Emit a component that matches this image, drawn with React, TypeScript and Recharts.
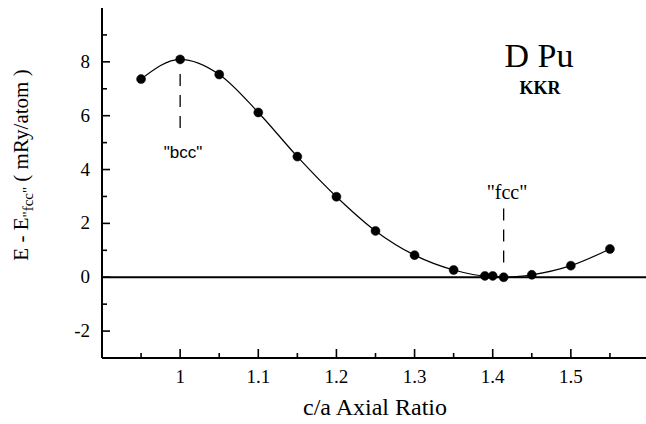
import React from 'react';
import { LineChart, Line, XAxis, YAxis, ReferenceLine, Customized } from 'recharts';

const caRatio = [0.95, 1.0, 1.05, 1.1, 1.15, 1.2, 1.25, 1.3, 1.35, 1.39, 1.4, 1.414, 1.45, 1.5, 1.55];
const energy = [7.36, 8.09, 7.53, 6.12, 4.48, 2.99, 1.72, 0.82, 0.27, 0.05, 0.05, 0.0, 0.09, 0.43, 1.05];
const xTicks = [0.95, 1, 1.05, 1.1, 1.15, 1.2, 1.25, 1.3, 1.35, 1.4, 1.45, 1.5, 1.55];
const yTicks = [-2, -1, 0, 1, 2, 3, 4, 5, 6, 7, 8, 9];
const bccMarker = [{ x: 1.0, y: 7.55 }, { x: 1.0, y: 5.45 }];
const fccMarker = [{ x: 1.414, y: 2.55 }, { x: 1.414, y: 0.45 }];

const data = caRatio.map((x, i) => ({ x, e: energy[i] }));

const SERIF = { fontFamily: "'Times New Roman', 'Liberation Serif', Tinos, 'Nimbus Roman', FreeSerif, serif" };
const SANS = { fontFamily: "'Liberation Sans', Arial, sans-serif" };

const isMajorX = (v: number) => Math.abs(v * 10 - Math.round(v * 10)) < 1e-6;
const isMajorY = (v: number) => Math.abs(v / 2 - Math.round(v / 2)) < 1e-6;

const BottomTick = (props: any) => {
  const { x, y, payload } = props;
  const major = isMajorX(payload.value);
  return (
    <g>
      <line x1={x} y1={y} x2={x} y2={y - (major ? 9 : 5)} stroke="#000" strokeWidth={1.6} />
      {major && (
        <text x={x} y={y + 25} textAnchor="middle" style={SERIF} fontSize={19} fill="#000">
          {String(Math.round(payload.value * 10) / 10)}
        </text>
      )}
    </g>
  );
};

const TopTick = (props: any) => {
  const { x, y, payload } = props;
  const major = isMajorX(payload.value);
  return <line x1={x} y1={y} x2={x} y2={y + (major ? 9 : 6)} stroke="#000" strokeWidth={1.6} />;
};

const LeftTick = (props: any) => {
  const { x, y, payload } = props;
  const major = isMajorY(payload.value);
  return (
    <g>
      <line x1={x} y1={y} x2={x + (major ? 8 : 5)} y2={y} stroke="#000" strokeWidth={1.6} />
      {major && (
        <text x={x - 12} y={y + 6} textAnchor="end" style={SERIF} fontSize={19} fill="#000">
          {String(payload.value)}
        </text>
      )}
    </g>
  );
};

const RightTick = (props: any) => {
  const { x, y, payload } = props;
  const major = isMajorY(payload.value);
  return <line x1={x} y1={y} x2={x - (major ? 8 : 5)} y2={y} stroke="#000" strokeWidth={1.6} />;
};

const Annotations = () => (
  <g>
    <text transform="translate(28,165) rotate(-90)" textAnchor="middle" style={SERIF} fontSize={21} fill="#000">
      <tspan>E - E</tspan>
      <tspan fontSize={15} dy={5}>"fcc"</tspan>
      <tspan dy={-5}> ( mRy/atom )</tspan>
    </text>
    <text x={375} y={415} textAnchor="middle" style={SERIF} fontSize={24} fill="#000">
      c/a Axial Ratio
    </text>
    <text x={539} y={67} textAnchor="middle" style={SERIF} fontSize={34} fill="#000">
      D Pu
    </text>
    <text x={540} y={94} textAnchor="middle" style={SERIF} fontSize={18} fontWeight="bold" fill="#000">
      KKR
    </text>
    <text x={183} y={158} textAnchor="middle" style={SANS} fontSize={17} fill="#000">
      "bcc"
    </text>
    <text x={507} y={199} textAnchor="middle" style={SERIF} fontSize={20} fill="#000">
      "fcc"
    </text>
  </g>
);

export default function App() {
  return (
    <div style={{ position: 'absolute', left: 0, top: 0, width: 646, height: 424, background: '#fff' }}>
      <LineChart width={646} height={424} data={data} margin={{ top: 8, right: -3, bottom: 0, left: 0 }}>
        <XAxis
          xAxisId="b"
          dataKey="x"
          type="number"
          domain={[0.9, 1.6]}
          ticks={xTicks}
          interval={0}
          height={66}
          tickSize={0}
          tickMargin={0}
          tickLine={false}
          tick={<BottomTick />}
          axisLine={{ stroke: '#000', strokeWidth: 2 }}
          allowDataOverflow
        />
        <XAxis
          xAxisId="t"
          orientation="top"
          dataKey="x"
          type="number"
          domain={[0.9, 1.6]}
          ticks={xTicks}
          interval={0}
          height={0}
          tickSize={0}
          tickMargin={0}
          tickLine={false}
          tick={<TopTick />}
          axisLine={{ stroke: '#000', strokeWidth: 2 }}
          allowDataOverflow
        />
        <YAxis
          yAxisId="l"
          type="number"
          domain={[-3, 10]}
          ticks={yTicks}
          interval={0}
          width={102}
          tickSize={0}
          tickMargin={0}
          tickLine={false}
          tick={<LeftTick />}
          axisLine={{ stroke: '#000', strokeWidth: 2 }}
          allowDataOverflow
        />
        <YAxis
          yAxisId="r"
          orientation="right"
          type="number"
          domain={[-3, 10]}
          ticks={yTicks}
          interval={0}
          width={0}
          tickSize={0}
          tickMargin={0}
          tickLine={false}
          tick={<RightTick />}
          axisLine={{ stroke: '#000', strokeWidth: 2 }}
          allowDataOverflow
        />
        <ReferenceLine xAxisId="b" yAxisId="l" y={0} stroke="#000" strokeWidth={2} />
        <ReferenceLine xAxisId="b" yAxisId="l" segment={bccMarker} stroke="#000" strokeWidth={1.3} strokeDasharray="12 9" />
        <ReferenceLine xAxisId="b" yAxisId="l" segment={fccMarker} stroke="#000" strokeWidth={1.3} strokeDasharray="12 9" />
        <Line
          xAxisId="b"
          yAxisId="l"
          dataKey="e"
          type="monotone"
          stroke="#000"
          strokeWidth={1.2}
          dot={{ r: 4.5, fill: '#000', stroke: '#000', strokeWidth: 0.5 }}
          activeDot={false}
          isAnimationActive={false}
        />
        <Customized component={Annotations} />
      </LineChart>
    </div>
  );
}
